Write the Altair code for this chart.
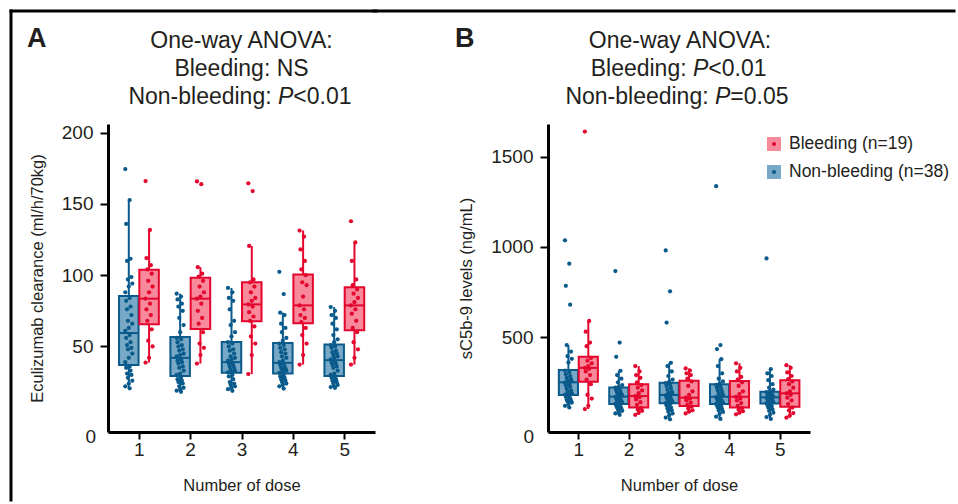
import altair as alt
import pandas as pd

doses = [1, 2, 3, 4, 5]

# ---------- Panel A: Eculizumab clearance (ml/h/70kg) ----------
clear_nonbleeding = [
    [174.4, 152.7, 135.9, 111.5, 110, 98.7, 97, 94.1, 92, 88, 84, 82, 78, 76, 72, 68, 66, 63, 61,
     58, 56, 53, 51, 49, 48, 45, 42, 39, 36, 35, 33, 31, 30, 28, 26, 24, 22, 20.6],
    [87, 85, 83, 80, 78, 75, 70, 65, 60, 56, 55, 53, 51, 50, 48, 47, 45, 44, 43,
     41, 40, 39, 38, 36, 35, 33, 31, 30, 28, 27, 26, 25, 24, 22, 21, 20, 19, 18.2],
    [91, 88, 84, 82, 76, 68, 65, 60, 57, 53, 52, 50, 48, 47, 45, 43, 42, 41, 40,
     38.5, 38, 37, 36, 35, 34, 33, 32, 31.8, 30, 29, 27, 25, 24, 23, 22, 21, 20, 18.9],
    [102.3, 86.7, 73.7, 72, 66, 63, 60, 56, 54, 52, 51, 49, 48, 46, 45, 43, 42, 40, 39,
     38, 37, 36, 35, 34.5, 34, 33, 32, 31.5, 30, 29, 28, 27, 26, 25, 24, 23, 22, 20.5],
    [77.6, 75, 72, 70, 66, 62, 58, 55, 53, 51, 50, 49, 47, 46, 45, 44, 43, 42, 41,
     40, 39, 38, 37, 36, 35, 33, 31, 30, 29, 28, 27, 26, 25, 24, 23, 22, 21.5, 21],
]
clear_bleeding = [
    [166, 131.7, 112, 107, 104, 101, 96, 92, 88, 83.5, 80, 76, 72, 68, 62, 54, 50, 42, 38.7],
    [165.7, 163.8, 105.6, 101, 99, 96, 92, 88, 85, 83.5, 80, 75, 70, 66, 60, 52, 49, 44, 38],
    [164.4, 159, 120.5, 97, 95, 92, 88, 84, 82, 79.5, 78, 74, 71, 68, 64, 57, 52, 44, 30.6],
    [131.3, 127, 118, 110, 104, 100, 95, 93, 85, 78.8, 76, 72, 70, 67, 63, 58, 52, 44, 37.3],
    [137.8, 122.9, 110, 97, 93, 90, 87, 84, 81, 78.8, 76, 73, 68, 63, 60, 53, 48, 42, 37.3],
]
clear_nb_lo = [20.6, 18.2, 18.9, 20.5, 21.0]
clear_nb_q1 = [36.9, 29.2, 31.5, 31.0, 29.2]
clear_nb_med = [59.4, 42.0, 39.0, 38.5, 40.4]
clear_nb_q3 = [85.3, 56.7, 53.2, 52.5, 51.3]
clear_nb_hi = [152.7, 87.0, 91.0, 73.7, 77.6]
clear_b_lo = [38.7, 38.0, 30.6, 37.3, 37.3]
clear_b_q1 = [65.5, 62.2, 67.6, 66.2, 61.3]
clear_b_med = [83.5, 83.5, 79.5, 78.8, 78.8]
clear_b_q3 = [103.8, 98.1, 95.1, 100.5, 91.6]
clear_b_hi = [131.7, 105.6, 120.5, 131.3, 122.9]

# ---------- Panel B: sC5b-9 levels (ng/mL) ----------
sc5b9_nonbleeding = [
    [1036, 907, 784, 680, 456, 420, 395, 380, 360, 315, 305, 295, 285, 275, 268, 260, 255, 252,
     248, 240, 232, 225, 215, 205, 198, 190, 185, 182, 178, 170, 162, 155, 150, 145, 138, 130, 120, 111],
    [866, 470, 391, 314, 290, 270, 250, 235, 225, 220, 212, 205, 198, 192, 186, 180, 176, 173,
     170, 165, 160, 155, 150, 146, 142, 138, 135, 132, 128, 122, 115, 110, 105, 100, 92, 85, 78, 70],
    [980, 754, 581, 358, 340, 310, 285, 265, 252, 245, 238, 230, 220, 210, 200, 192, 186, 182,
     178, 172, 166, 160, 155, 150, 145, 140, 137, 135, 130, 122, 112, 105, 96, 88, 78, 68, 55, 45],
    [1336, 456, 434, 378, 340, 300, 270, 255, 242, 236, 228, 220, 212, 204, 196, 188, 180, 174,
     168, 163, 158, 153, 148, 144, 140, 136, 133, 131, 128, 122, 116, 110, 102, 95, 86, 75, 60, 47],
    [936, 323, 300, 285, 262, 240, 220, 210, 200, 196, 192, 188, 184, 180, 176, 173, 170, 168,
     166, 162, 158, 154, 150, 147, 144, 140, 137, 135, 130, 125, 118, 110, 100, 92, 82, 70, 58, 47],
]
sc5b9_bleeding = [
    [1638, 590, 530, 470, 450, 385, 370, 355, 340, 330, 325, 310, 290, 265, 240, 180, 160, 120, 102],
    [340, 310, 290, 275, 250, 235, 220, 205, 190, 174, 168, 155, 140, 125, 108, 100, 92, 82, 70],
    [327, 315, 300, 290, 270, 255, 230, 200, 180, 165, 160, 150, 138, 125, 115, 105, 95, 88, 78],
    [355, 330, 310, 280, 265, 250, 230, 200, 185, 170, 160, 150, 135, 120, 108, 100, 90, 82, 73],
    [345, 330, 305, 285, 268, 255, 240, 220, 200, 189, 180, 165, 150, 130, 110, 95, 80, 66, 54],
]
sc_nb_lo = [111, 70, 45, 47, 47]
sc_nb_q1 = [180, 130, 134, 130, 133]
sc_nb_med = [250, 171, 180, 170, 167]
sc_nb_q3 = [318, 222, 248, 239, 198]
sc_nb_hi = [456, 314, 358, 378, 323]
sc_b_lo = [102, 70, 78, 73, 54]
sc_b_q1 = [253, 111, 119, 111, 115]
sc_b_med = [330, 174, 165, 170, 189]
sc_b_q3 = [391, 240, 259, 257, 262]
sc_b_hi = [590, 340, 327, 355, 345]

group_names = ["Bleeding", "Non-bleeding"]
legend_labels = ["Bleeding (n=19)", "Non-bleeding (n=38)"]

# ---------- styles ----------
RED = "#e4062d"
BLUE = "#0a5a8c"
RED_FILL = "#f7899b"
BLUE_FILL = "#77a8c5"
INK = "#231f20"
FONT = "Liberation Sans"


def points_table(nb_lists, b_lists):
    rows = []
    for g, lists in (("Non-bleeding", nb_lists), ("Bleeding", b_lists)):
        for d, vals in zip(doses, lists):
            for i, v in enumerate(vals):
                rows.append({"dose": d, "group": g, "value": v, "idx": i})
    return pd.DataFrame(rows)


def box_table(nb, b):
    rows = []
    for g, st in (("Non-bleeding", nb), ("Bleeding", b)):
        lo, q1, med, q3, hi = st
        for k, d in enumerate(doses):
            rows.append({"dose": d, "group": g, "lo": lo[k], "q1": q1[k],
                         "med": med[k], "q3": q3[k], "hi": hi[k]})
    return pd.DataFrame(rows)


stroke_scale = alt.Scale(domain=group_names, range=[RED, BLUE])
fill_scale = alt.Scale(domain=group_names, range=[RED_FILL, BLUE_FILL])
OFF = "(datum.group === 'Bleeding' ? 0.2 : -0.195)"


def text_layer(txt, x, y, size=23, align="center", style="normal", weight="normal", baseline="alphabetic"):
    return alt.Chart(pd.DataFrame({"t": [txt]})).mark_text(
        align=align, baseline=baseline, fontSize=size, font=FONT,
        fontStyle=style, fontWeight=weight, color=INK
    ).encode(x=alt.value(x), y=alt.value(y), text="t:N")


def panel(pts, box, ydomain, yvalues, ytitle, width, texts, extra):
    xscale = alt.Scale(domain=[0.4, 5.6], nice=False, zero=False)
    yscale = alt.Scale(domain=ydomain, nice=False, zero=False)
    common = dict(grid=False, domainColor="black", domainWidth=3, tickColor="black",
                  tickWidth=2, labelFont=FONT, labelFontSize=19, labelColor=INK,
                  labelFlush=False, titleFont=FONT, titleFontSize=16.5,
                  titleFontWeight="normal", titleColor=INK, zindex=1)
    xaxis = alt.Axis(values=doses, format="d", title="Number of dose",
                     tickSize=7, labelPadding=1, titlePadding=18, **common)
    yaxis = alt.Axis(values=yvalues, format="d", title=ytitle,
                     tickSize=8, labelPadding=7, titlePadding=16, **common)

    bx = alt.Chart(box).transform_calculate(
        xc="datum.dose + " + OFF,
        xl="datum.dose + " + OFF + " - 0.19",
        xr="datum.dose + " + OFF + " + 0.19",
    )
    whisk_lo = bx.mark_rule(strokeWidth=2).encode(
        x=alt.X("xc:Q", scale=xscale, axis=xaxis),
        y=alt.Y("lo:Q", scale=yscale, axis=yaxis), y2="q1:Q",
        color=alt.Color("group:N", scale=stroke_scale, legend=None))
    whisk_hi = bx.mark_rule(strokeWidth=2).encode(
        x=alt.X("xc:Q", scale=xscale, axis=xaxis),
        y=alt.Y("q3:Q", scale=yscale, axis=yaxis), y2="hi:Q",
        color=alt.Color("group:N", scale=stroke_scale, legend=None))
    boxes = bx.mark_rect(strokeWidth=2, opacity=1).encode(
        x=alt.X("xl:Q", scale=xscale, axis=xaxis), x2="xr:Q",
        y=alt.Y("q1:Q", scale=yscale, axis=yaxis), y2="q3:Q",
        fill=alt.Fill("group:N", scale=fill_scale, legend=None),
        stroke=alt.Stroke("group:N", scale=stroke_scale, legend=None))
    medians = bx.mark_rule(strokeWidth=2).encode(
        x=alt.X("xl:Q", scale=xscale, axis=xaxis), x2="xr:Q",
        y=alt.Y("med:Q", scale=yscale, axis=yaxis),
        color=alt.Color("group:N", scale=stroke_scale, legend=None))
    dots = alt.Chart(pts).transform_calculate(
        xj="datum.dose + " + OFF + " + ((datum.idx * 5) % 9 - 4) * 0.017"
    ).mark_circle(size=18, opacity=1).encode(
        x=alt.X("xj:Q", scale=xscale, axis=xaxis),
        y=alt.Y("value:Q", scale=yscale, axis=yaxis),
        color=alt.Color("group:N", scale=stroke_scale, legend=None))

    layers = extra + [whisk_lo, whisk_hi, boxes, medians, dots] + texts
    return alt.layer(*layers).properties(width=width, height=308)


def rule_h(x1, x2, y):
    return alt.Chart(pd.DataFrame({"k": [0]})).mark_rule(
        color="black", strokeWidth=3, strokeCap="square").encode(
        x=alt.value(x1), x2=alt.value(x2), y=alt.value(y))


def rule_v(x, y1, y2):
    return alt.Chart(pd.DataFrame({"k": [0]})).mark_rule(
        color="black", strokeWidth=3, strokeCap="square").encode(
        x=alt.value(x), y=alt.value(y1), y2=alt.value(y2))


def legend_layers(x, y0, dy):
    out = []
    for k, (g, lab) in enumerate(zip(group_names, legend_labels)):
        fillc = RED_FILL if g == "Bleeding" else BLUE_FILL
        dotc = RED if g == "Bleeding" else BLUE
        yy = y0 + k * dy
        d = pd.DataFrame({"t": [lab]})
        out.append(alt.Chart(d).mark_square(size=196, filled=True, color=fillc, opacity=1)
                   .encode(x=alt.value(x), y=alt.value(yy)))
        out.append(alt.Chart(d).mark_circle(size=18, color=dotc, opacity=1)
                   .encode(x=alt.value(x), y=alt.value(yy)))
        out.append(alt.Chart(d).mark_text(align="left", baseline="middle", fontSize=17.5, font=FONT, color=INK)
                   .encode(x=alt.value(x + 15), y=alt.value(yy), text="t:N"))
    return out


ptsA = points_table(clear_nonbleeding, clear_bleeding)
boxA = box_table((clear_nb_lo, clear_nb_q1, clear_nb_med, clear_nb_q3, clear_nb_hi),
                 (clear_b_lo, clear_b_q1, clear_b_med, clear_b_q3, clear_b_hi))
ptsB = points_table(sc5b9_nonbleeding, sc5b9_bleeding)
boxB = box_table((sc_nb_lo, sc_nb_q1, sc_nb_med, sc_nb_q3, sc_nb_hi),
                 (sc_b_lo, sc_b_q1, sc_b_med, sc_b_q3, sc_b_hi))

SP = 6.4  # width of a space at 23px
textsA = [
    text_layer("A", -81, -77, size=27, align="left", weight="bold"),
    text_layer("One-way ANOVA:", 133.5, -76),
    text_layer("Bleeding: NS", 133.5, -48),
    text_layer("Non-bleeding:", 170 - SP, -20, align="right"),
    text_layer("P", 170, -20, align="left", style="italic"),
    text_layer("<0.01", 185.3, -20, align="left"),
    text_layer("0", -12, 313, size=19, align="right", baseline="middle"),
]
textsB = [
    text_layer("B", -93, -77, size=27, align="left", weight="bold"),
    text_layer("One-way ANOVA:", 132, -76),
    text_layer("Bleeding:", 145 - SP, -48, align="right"),
    text_layer("P", 145, -48, align="left", style="italic"),
    text_layer("<0.01", 160.3, -48, align="left"),
    text_layer("Non-bleeding:", 167 - SP, -20, align="right"),
    text_layer("P", 167, -20, align="left", style="italic"),
    text_layer("=0.05", 182.3, -20, align="left"),
    text_layer("0", -14, 313, size=19, align="right", baseline="middle"),
] + legend_layers(226, 20, 28)

frameA = [rule_v(-97, -113, 376), rule_h(-97, 268, -113)]
frameB = [rule_h(-174, 406, -113)]

panelA = panel(ptsA, boxA, [-10, 206], [50, 100, 150, 200],
               "Eculizumab clearance (ml/h/70kg)", 267, textsA, frameA)
panelB = panel(ptsB, boxB, [-25, 1680], [500, 1000, 1500],
               "sC5b-9 levels (ng/mL)", 262, textsB, frameB)

chart = alt.hconcat(panelA, panelB, spacing=173, bounds="flush").properties(
    padding={"left": 8, "top": 8, "right": 0, "bottom": 0},
    background="white",
).configure_view(stroke=None)

chart.save("out.html", embed_options={"renderer": "svg", "actions": False})
